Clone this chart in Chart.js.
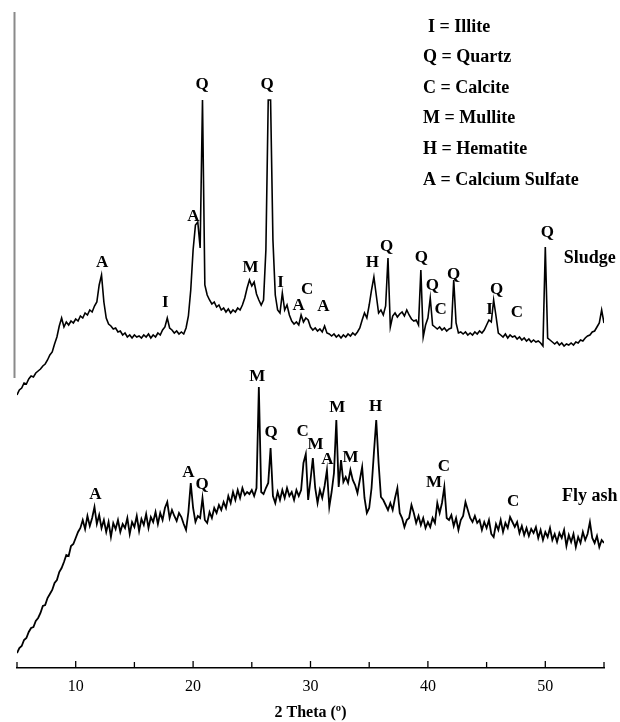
<!DOCTYPE html>
<html>
<head>
<meta charset="utf-8">
<script src="https://cdn.jsdelivr.net/npm/chart.js@4.4.1/dist/chart.umd.min.js"></script>
<style>
  html, body { margin: 0; padding: 0; background: #fff; }
  #wrap { width: 620px; height: 722px; position: relative; }
</style>
</head>
<body>
<div id="wrap"><canvas id="xrd"></canvas></div>
<script>
// scan: 2 theta from 5 to 55 deg, 0.2 deg step
const thetaStart = 5
const thetaStep = 0.2

// sludge intensity (arbitrary units), one row = 2 deg
const sludge = [
  273,278,280,285,284,289,292,291,295,297,
  299,302,304,308,313,316,324,331,342,350,
  341,346,343,347,345,349,347,352,350,355,
  353,358,356,362,366,383,393,366,350,344,
  342,339,340,336,337,333,335,331,333,330,
  333,331,332,330,333,331,334,330,333,331,
  335,333,338,341,350,340,338,335,337,334,
  336,334,340,352,378,418,443,446,420,568,
  383,373,368,364,366,361,363,358,360,356,
  359,355,358,356,360,358,363,370,380,388,
  382,386,374,368,363,368,418,568,568,428,
  373,358,355,375,358,363,353,347,344,346,
  343,353,346,350,348,341,338,340,337,339,
  336,342,335,334,332,334,331,333,330,333,
  331,334,332,335,333,336,340,348,355,350,
  363,378,391,373,355,358,353,362,410,341,
  352,355,351,354,356,352,358,353,349,347,
  348,343,398,331,343,350,370,343,341,339,
  341,338,340,337,339,340,388,345,335,336,
  334,336,333,335,333,336,334,337,335,338,
  343,348,346,368,352,335,333,331,334,330,
  333,331,332,329,331,328,330,327,329,326,
  328,326,327,325,322,421,330,328,326,324,
  326,323,325,322,324,323,325,323,326,325,
  328,327,330,332,333,336,337,341,345,358,
  345
]

// fly ash intensity (arbitrary units), one row = 2 deg
const flyAsh = [
  15,20,22,28,30,36,40,41,47,50,
  55,62,63,70,74,78,85,88,96,100,
  106,113,112,122,124,130,136,140,148,139,
  152,142,150,161,144,153,140,148,136,146,
  131,145,139,148,136,144,140,150,134,146,
  141,152,137,149,143,154,140,151,146,156,
  144,155,148,160,166,150,158,152,147,155,
  151,144,138,156,185,160,146,152,150,170,
  148,145,156,150,160,155,163,158,166,160,
  172,165,176,168,178,170,180,173,176,174,
  178,172,180,281,176,174,180,185,220,172,
  165,176,168,178,170,180,172,176,168,178,
  172,178,205,214,168,188,210,180,165,178,
  170,182,198,161,176,195,248,181,208,186,
  191,185,198,188,183,175,188,201,170,155,
  160,180,215,248,205,171,168,163,158,165,
  158,170,180,155,150,141,148,150,163,155,
  145,152,143,150,140,146,141,150,145,165,
  155,165,181,150,148,153,142,150,138,148,
  152,166,158,150,146,152,145,148,138,146,
  140,148,134,131,144,138,148,136,145,140,
  151,146,141,146,135,142,133,140,132,139,
  135,141,130,138,128,136,131,140,128,134,
  126,135,130,138,122,133,126,134,121,131,
  125,136,128,134,146,130,125,132,121,128,
  125
]

// peak labels: [letter, 2theta, label height]
const sludgePeaks = [
  ['A', 12.25, 405], ['I', 17.64, 365], ['A', 20.03, 451], ['Q', 20.77, 583],
  ['M', 24.89, 400], ['Q', 26.31, 583], ['I', 27.45, 385], ['A', 28.98, 362],
  ['C', 29.72, 378], ['A', 31.09, 361], ['H', 35.26, 405], ['Q', 36.48, 421],
  ['Q', 39.44, 410], ['Q', 40.38, 382], ['C', 41.09, 358], ['Q', 42.2, 393],
  ['I', 45.26, 358], ['Q', 45.86, 378], ['C', 47.57, 355], ['Q', 50.18, 435]
]
const flyAshPeaks = [
  ['A', 11.68, 173], ['A', 19.6, 195], ['Q', 20.77, 183], ['M', 25.46, 291],
  ['Q', 26.65, 235], ['C', 29.34, 236], ['M', 30.43, 223], ['A', 31.43, 208],
  ['M', 32.28, 260], ['M', 33.41, 210], ['H', 35.55, 261], ['M', 40.52, 185],
  ['C', 41.37, 201], ['C', 47.25, 166]
]
const sampleNames = [['Sludge', 53.79, 410], ['Fly ash', 53.79, 172]]

const phaseKey = [
  'I = Illite',
  'Q = Quartz',
  'C = Calcite',
  'M = Mullite',
  'H = Hematite',
  'A = Calcium Sulfate'
]

const toPoints = arr => arr.map((v, i) => ({ x: thetaStart + i * thetaStep, y: v }))

const serif = '"Liberation Serif", "DejaVu Serif", serif'

/* text, the short left rule and the inward ticks */
const decor = {
  id: 'decor',
  afterDraw(chart) {
    const c = chart.ctx
    const xs = chart.scales.x
    const ys = chart.scales.y
    const area = chart.chartArea

    // partial left axis line
    c.save()
    c.strokeStyle = '#8a8a8a'
    c.lineWidth = 2
    c.beginPath()
    c.moveTo(area.left - 2.5, ys.getPixelForValue(656))
    c.lineTo(area.left - 2.5, ys.getPixelForValue(290))
    c.stroke()

    // ticks pointing up
    c.strokeStyle = '#000'
    c.lineWidth = 1.3
    for (const t of xs.ticks) {
      const px = xs.getPixelForValue(t.value)
      const len = t.value % 10 === 0 ? 7 : 6
      c.beginPath()
      c.moveTo(px, area.bottom)
      c.lineTo(px, area.bottom - len)
      c.stroke()
    }

    // peak letters
    c.fillStyle = '#000'
    c.textAlign = 'center'
    c.textBaseline = 'middle'
    c.font = 'bold 17px ' + serif
    for (const [s, th, h] of sludgePeaks.concat(flyAshPeaks)) {
      c.fillText(s, xs.getPixelForValue(th), ys.getPixelForValue(h))
    }
    c.font = 'bold 18px ' + serif
    for (const [s, th, h] of sampleNames) {
      c.fillText(s, xs.getPixelForValue(th), ys.getPixelForValue(h))
    }

    // phase key
    c.textAlign = 'left'
    phaseKey.forEach((s, i) => {
      c.fillText(s, i === 0 ? 428 : 423, 27 + i * 30.6)
    })
    c.restore()
  }
}

const ctx = document.getElementById('xrd').getContext('2d')
const chart = new Chart(ctx, {
  type: 'scatter',
  data: {
    datasets: [{
      label: 'Sludge',
      data: toPoints(sludge),
      showLine: true,
      borderColor: '#000',
      borderWidth: 1.6,
      pointRadius: 0,
      tension: 0
    }, {
      label: 'Fly ash',
      data: toPoints(flyAsh),
      showLine: true,
      borderColor: '#000',
      borderWidth: 1.8,
      pointRadius: 0,
      tension: 0
    }]
  },
  options: {
    responsive: true,
    maintainAspectRatio: false,
    animation: false,
    layout: { padding: { left: 17, right: 16, top: 0, bottom: 0 } },
    scales: {
      x: {
        type: 'linear',
        min: 5,
        max: 55,
        afterFit: s => { s.height = 54 },
        grid: { display: false, drawTicks: false },
        border: { display: true, color: '#000', width: 1.5 },
        ticks: {
          stepSize: 5,
          padding: 9,
          maxRotation: 0,
          color: '#000',
          font: { family: serif, size: 16 },
          callback: v => (v % 10 === 0 ? v : '')
        },
        title: {
          display: true,
          text: '2 Theta (º)',
          color: '#000',
          font: { family: serif, size: 16, weight: 'bold' },
          padding: { top: 0, bottom: 0 }
        }
      },
      y: {
        display: false,
        min: 0,
        max: 668
      }
    },
    plugins: {
      legend: { display: false },
      tooltip: { enabled: false }
    }
  },
  plugins: [decor]
})
</script>
</body>
</html>
